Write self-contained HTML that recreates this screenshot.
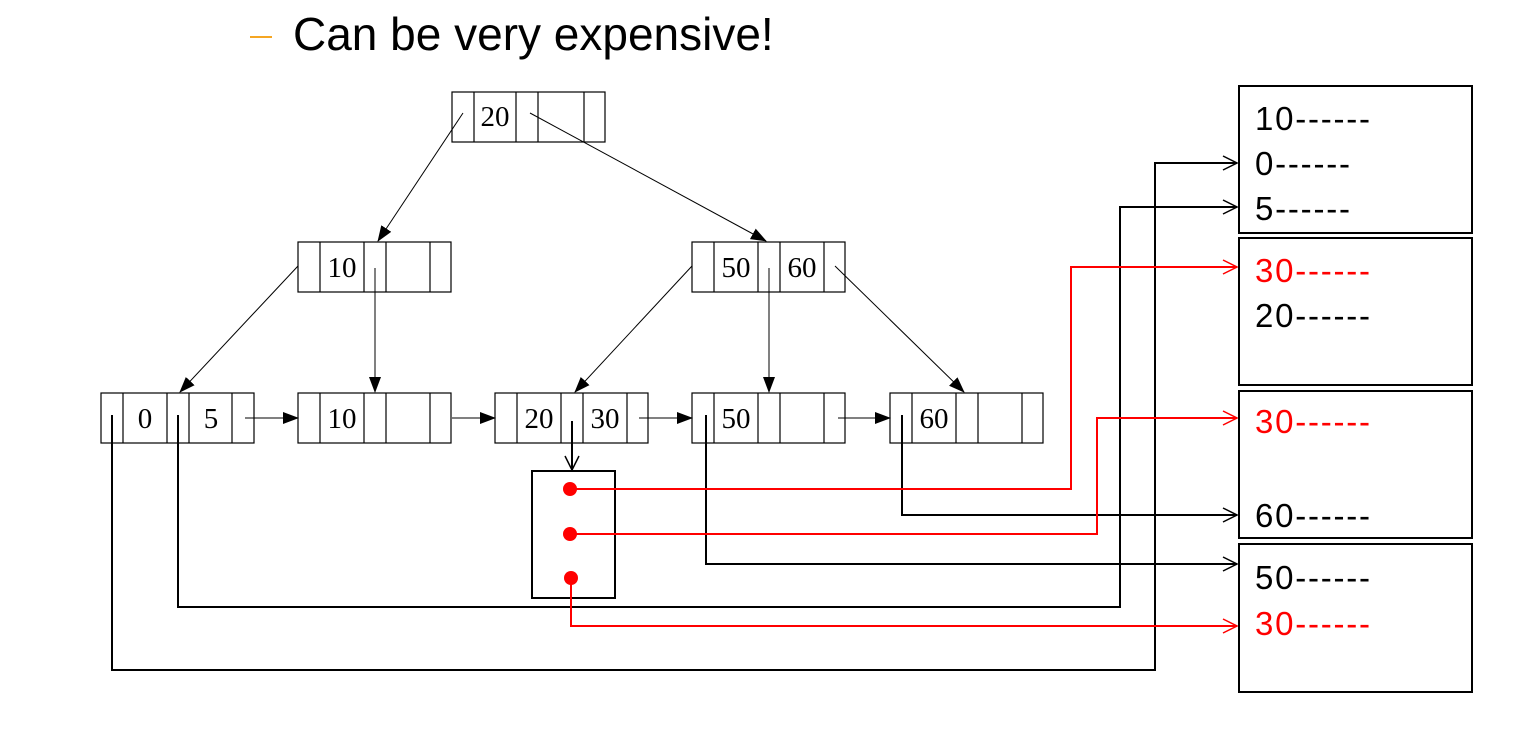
<!DOCTYPE html>
<html><head><meta charset="utf-8"><style>
html,body{margin:0;padding:0;background:#fff;width:1513px;height:732px;overflow:hidden}
</style></head><body>
<svg width="1513" height="732" viewBox="0 0 1513 732" xmlns="http://www.w3.org/2000/svg">
<defs>
<marker id="tri" markerWidth="16" markerHeight="12" refX="15" refY="6" orient="auto" markerUnits="userSpaceOnUse"><path d="M0,0 L16,6 L0,12 z" fill="#000"/></marker>
<marker id="openb" markerWidth="16" markerHeight="16" refX="15" refY="8" orient="auto" markerUnits="userSpaceOnUse"><path d="M1,1 L15,8 L1,15" fill="none" stroke="#000" stroke-width="1.5"/></marker>
<marker id="openr" markerWidth="16" markerHeight="16" refX="15" refY="8" orient="auto" markerUnits="userSpaceOnUse"><path d="M1,1 L15,8 L1,15" fill="none" stroke="#f00" stroke-width="1.5"/></marker>
</defs>
<line x1="250" y1="37" x2="272" y2="37" stroke="#f5a623" stroke-width="2"/>
<text x="293" y="50" font-family="Liberation Sans, sans-serif" font-size="46">Can be very expensive!</text>

<g fill="none" stroke="#000" stroke-width="1.2">
<rect x="452" y="92" width="153" height="50"/><path d="M474 92V142M516 92V142M538 92V142M584 92V142"/>
<rect x="298" y="242" width="153" height="50"/><path d="M320 242V292M364 242V292M386 242V292M430 242V292"/>
<rect x="692" y="242" width="153" height="50"/><path d="M714 242V292M758 242V292M780 242V292M824 242V292"/>
<rect x="101" y="393" width="153" height="50"/><path d="M123 393V443M167 393V443M189 393V443M232 393V443"/>
<rect x="298" y="393" width="153" height="50"/><path d="M320 393V443M364 393V443M386 393V443M430 393V443"/>
<rect x="495" y="393" width="153" height="50"/><path d="M517 393V443M561 393V443M583 393V443M627 393V443"/>
<rect x="692" y="393" width="153" height="50"/><path d="M714 393V443M758 393V443M780 393V443M824 393V443"/>
<rect x="890" y="393" width="153" height="50"/><path d="M912 393V443M956 393V443M978 393V443M1022 393V443"/>
<rect x="532" y="471" width="83" height="127" stroke-width="2"/>
<rect x="1239" y="86" width="233" height="147" stroke-width="2"/>
<rect x="1239" y="238" width="233" height="147" stroke-width="2"/>
<rect x="1239" y="391" width="233" height="147" stroke-width="2"/>
<rect x="1239" y="544" width="233" height="148" stroke-width="2"/>
</g>

<g font-family="Liberation Serif, serif" font-size="29" text-anchor="middle">
<text x="495" y="126">20</text>
<text x="342" y="277">10</text>
<text x="736" y="277">50</text><text x="802" y="277">60</text>
<text x="145" y="428">0</text><text x="211" y="428">5</text>
<text x="342" y="428">10</text>
<text x="539" y="428">20</text><text x="605" y="428">30</text>
<text x="736" y="428">50</text>
<text x="934" y="428">60</text>
</g>

<g stroke="#000" stroke-width="1" fill="none">
<line x1="463" y1="113" x2="378" y2="241" marker-end="url(#tri)"/>
<line x1="530" y1="113" x2="766" y2="241" marker-end="url(#tri)"/>
<line x1="298" y1="266" x2="180" y2="392" marker-end="url(#tri)"/>
<line x1="375" y1="268" x2="375" y2="392" marker-end="url(#tri)"/>
<line x1="692" y1="266" x2="575" y2="392" marker-end="url(#tri)"/>
<line x1="769" y1="268" x2="769" y2="392" marker-end="url(#tri)"/>
<line x1="835" y1="266" x2="964" y2="392" marker-end="url(#tri)"/>
<line x1="245" y1="418" x2="298" y2="418" marker-end="url(#tri)"/>
<line x1="452" y1="418" x2="495" y2="418" marker-end="url(#tri)"/>
<line x1="639" y1="418" x2="692" y2="418" marker-end="url(#tri)"/>
<line x1="838" y1="418" x2="890" y2="418" marker-end="url(#tri)"/>
</g>
<g stroke="#000" stroke-width="2" fill="none">
<polyline points="572,421 572,470" marker-end="url(#openb)"/>
<polyline points="112,415 112,670 1155,670 1155,163 1237,163" marker-end="url(#openb)"/>
<polyline points="178,415 178,607 1120,607 1120,207 1237,207" marker-end="url(#openb)"/>
<polyline points="706,415 706,564 1237,564" marker-end="url(#openb)"/>
<polyline points="902,415 902,515 1237,515" marker-end="url(#openb)"/>
</g>
<g stroke="#f00" stroke-width="2" fill="none">
<polyline points="570,489 1071,489 1071,267 1237,267" marker-end="url(#openr)"/>
<polyline points="570,534 1097,534 1097,418 1237,418" marker-end="url(#openr)"/>
<polyline points="571,578 571,626 1237,626" marker-end="url(#openr)"/>
</g>
<g fill="#f00"><circle cx="570" cy="489" r="7"/><circle cx="570" cy="534" r="7"/><circle cx="571" cy="578" r="7"/></g>

<g font-family="Liberation Sans, sans-serif" font-size="33">
<text x="1255" y="130" textLength="115" lengthAdjust="spacing">10------</text>
<text x="1255" y="175" textLength="95" lengthAdjust="spacing">0------</text>
<text x="1255" y="220" textLength="95" lengthAdjust="spacing">5------</text>
<text x="1255" y="282" fill="#f00" textLength="115" lengthAdjust="spacing">30------</text>
<text x="1255" y="327" textLength="115" lengthAdjust="spacing">20------</text>
<text x="1255" y="433" fill="#f00" textLength="115" lengthAdjust="spacing">30------</text>
<text x="1255" y="527" textLength="115" lengthAdjust="spacing">60------</text>
<text x="1255" y="589" textLength="115" lengthAdjust="spacing">50------</text>
<text x="1255" y="635" fill="#f00" textLength="115" lengthAdjust="spacing">30------</text>
</g>
</svg>
</body></html>
